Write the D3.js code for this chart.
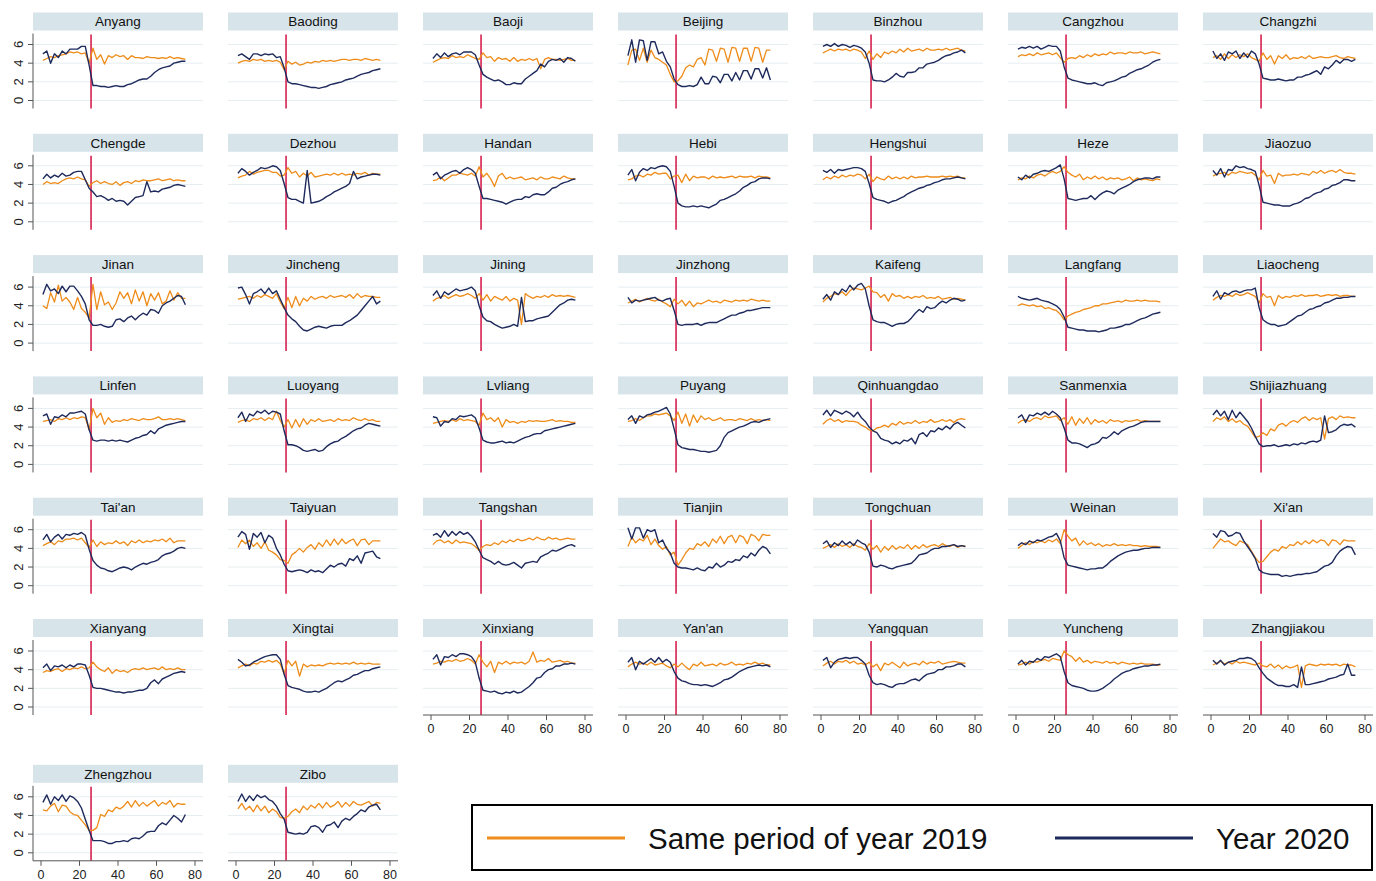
<!DOCTYPE html>
<html><head><meta charset="utf-8">
<script src="https://cdn.jsdelivr.net/npm/d3@7"></script>
<style>
html,body{margin:0;padding:0;background:#fff;}
svg{display:block;font-family:"Liberation Sans",Arial,Helvetica,sans-serif;}
</style></head><body>
<svg id="chart" width="1376" height="881"></svg>
<script>
// City panels in reading order
const cities = ["Anyang","Baoding","Baoji","Beijing","Binzhou","Cangzhou","Changzhi",
  "Chengde","Dezhou","Handan","Hebi","Hengshui","Heze","Jiaozuo",
  "Jinan","Jincheng","Jining","Jinzhong","Kaifeng","Langfang","Liaocheng",
  "Linfen","Luoyang","Lvliang","Puyang","Qinhuangdao","Sanmenxia","Shijiazhuang",
  "Tai'an","Taiyuan","Tangshan","Tianjin","Tongchuan","Weinan","Xi'an",
  "Xianyang","Xingtai","Xinxiang","Yan'an","Yangquan","Yuncheng","Zhangjiakou",
  "Zhengzhou","Zibo"];

// Sampled days of the period
const days = [1,3,5,7,9,11,13,15,17,19,21,23,25,27,29,31,33,35,37,
  39,41,43,45,47,49,51,53,55,57,59,61,63,65,67,69,71,73,75];

const eventDay = 26;
const yTicks = [0,2,4,6];
const xTicks = [0,20,40,60,80];
const legendLabels = ["Same period of year 2019","Year 2020"];

// Same period of year 2019, one row per city
const period2019 = [
  [4.3,4.5,4.7,4.6,4.8,4.9,5.0,5.2,5.1,5.2,5.0,5.1,4.0,5.6,4.4,4.9,3.9,4.8,4.6, 4.9,4.7,4.8,4.4,4.8,4.6,4.6,4.5,4.7,4.6,4.6,4.5,4.6,4.5,4.7,4.5,4.6,4.5,4.4],
  [4.0,4.2,4.3,4.2,4.4,4.3,4.4,4.2,4.3,4.2,4.3,4.1,3.3,4.2,3.9,4.1,3.8,3.9,4.1, 4.0,4.2,4.1,4.3,4.2,4.3,4.2,4.3,4.4,4.4,4.3,4.4,4.4,4.3,4.5,4.4,4.3,4.4,4.3],
  [4.1,4.3,4.5,4.6,4.5,4.8,4.6,4.7,4.6,4.9,4.7,4.5,4.4,5.1,4.6,4.7,4.2,4.6,4.4, 4.5,4.2,4.6,4.2,4.4,4.3,4.5,4.3,4.5,3.4,4.4,4.6,4.4,4.4,4.3,4.4,4.5,4.3,4.3],
  [3.8,5.4,5.5,4.3,5.6,4.1,5.4,4.6,4.4,4.1,3.8,2.8,2.0,2.1,2.6,3.5,3.8,3.6,4.4, 4.6,3.8,5.5,5.4,4.2,5.6,5.5,4.1,5.7,5.6,4.2,5.6,5.6,4.2,5.7,5.6,4.1,5.4,5.4],
  [5.1,5.3,5.5,5.3,5.5,5.4,5.5,5.3,5.5,5.4,5.2,4.5,5.3,4.4,5.0,4.6,5.2,5.0,5.3, 5.1,5.5,5.2,5.6,5.3,5.4,5.5,5.3,5.6,5.4,5.4,5.5,5.4,5.6,5.4,5.5,5.6,5.4,5.3],
  [4.7,4.9,4.8,5.0,4.8,5.1,4.9,5.0,5.1,4.9,5.1,4.6,4.1,4.5,4.6,4.5,4.8,4.6,4.9, 4.7,5.0,4.8,5.0,4.9,5.2,5.0,5.1,5.1,5.0,5.2,5.1,5.1,5.2,5.0,5.1,5.2,5.1,5.0],
  [4.6,4.8,4.4,5.0,4.5,4.9,4.6,4.9,4.7,5.0,4.6,4.4,4.2,5.1,4.4,4.8,3.9,4.8,4.5, 4.9,4.4,4.6,4.5,4.7,4.5,4.8,4.5,4.6,4.7,4.6,4.6,4.7,4.8,4.6,4.5,4.7,4.6,4.5],
  [4.0,4.3,4.1,4.2,4.1,4.4,4.6,4.7,4.6,4.8,4.6,4.5,3.8,4.2,4.4,4.1,4.3,4.1,4.0, 4.3,3.9,4.2,4.3,4.1,4.4,4.3,4.5,4.4,4.4,4.5,4.6,4.4,4.5,4.6,4.4,4.5,4.4,4.4],
  [4.7,4.9,5.0,5.4,5.1,5.3,5.4,5.5,5.5,5.3,5.3,4.9,5.0,5.8,5.2,5.4,4.8,5.2,4.9, 5.3,4.8,4.9,5.0,5.1,5.0,5.2,5.0,5.2,5.0,5.1,5.0,5.2,5.1,5.3,5.0,5.2,5.1,5.1],
  [4.4,4.5,4.8,4.4,4.7,5.0,5.0,5.2,5.1,5.0,5.2,4.9,5.9,4.8,5.2,4.6,3.8,4.9,5.2, 4.6,4.8,4.6,4.7,4.8,4.5,4.6,4.7,4.5,4.8,4.6,4.6,4.8,4.7,4.6,4.9,4.7,4.6,4.6],
  [4.5,4.6,4.9,5.0,4.8,5.1,5.0,5.3,5.1,5.2,5.2,4.6,4.9,5.0,4.2,5.1,4.4,4.9,4.7, 4.8,4.8,4.6,4.9,4.7,4.8,4.7,4.8,4.9,4.7,4.9,4.8,4.8,4.9,4.7,4.9,4.8,4.8,4.7],
  [4.5,4.8,4.6,4.9,4.7,5.0,4.8,5.0,4.9,5.1,5.0,4.6,5.1,4.3,4.8,4.6,4.5,4.9,4.6, 4.8,4.6,4.8,4.6,4.9,4.7,4.8,4.8,4.9,4.8,4.8,4.8,4.9,4.8,4.9,4.8,4.9,4.7,4.7],
  [4.5,4.7,4.6,4.9,4.7,5.0,5.1,4.9,5.2,5.4,5.2,5.4,5.9,5.3,5.0,4.8,5.1,4.5,4.8, 4.6,4.9,4.6,4.8,4.5,4.7,4.6,4.7,4.5,4.6,4.8,4.4,4.7,4.5,4.6,4.5,4.4,4.6,4.5],
  [4.9,5.1,5.2,5.3,5.0,5.3,5.2,5.4,5.3,5.2,5.3,5.0,4.5,5.5,4.9,5.0,4.1,5.2,4.9, 5.0,5.0,5.1,5.0,5.2,5.1,5.0,5.4,5.2,5.5,5.2,5.4,5.5,5.3,5.6,5.3,5.2,5.2,5.1],
  [4.0,3.7,5.4,4.4,6.2,4.5,4.9,4.4,3.6,4.9,3.7,3.3,2.7,6.3,3.6,5.5,4.1,4.4,3.6, 4.3,5.5,4.8,5.4,4.2,5.7,4.5,5.5,4.0,5.3,4.6,5.4,4.2,4.5,5.6,4.6,5.4,4.8,4.8],
  [4.7,4.8,4.9,5.0,4.8,5.1,4.9,5.2,5.0,4.8,5.3,4.4,3.7,4.9,3.8,5.0,4.0,4.8,4.5, 5.0,4.7,4.9,5.0,4.8,5.1,4.9,5.0,5.1,4.9,5.2,4.8,5.3,4.9,5.1,5.0,5.0,4.9,4.9],
  [4.5,4.8,4.9,5.1,4.8,5.0,5.2,5.0,5.1,5.3,5.1,4.8,5.3,4.6,5.2,4.5,5.0,4.8,4.6, 5.0,4.5,4.8,4.6,2.0,5.3,5.0,4.8,5.0,4.9,5.1,4.9,5.2,5.0,5.1,5.0,5.1,5.0,4.9],
  [4.3,4.5,4.7,4.4,4.6,4.8,4.6,4.5,4.7,4.4,4.2,3.9,4.7,4.2,4.6,4.0,4.5,3.9,4.3, 4.2,4.4,4.6,4.4,4.5,4.3,4.6,4.5,4.4,4.6,4.5,4.6,4.5,4.7,4.6,4.5,4.6,4.5,4.5],
  [4.4,4.8,5.0,5.3,5.2,5.5,5.1,5.6,5.9,5.8,5.7,5.9,6.1,5.5,5.4,4.9,5.2,4.5,5.3, 5.0,5.1,4.8,5.0,4.8,5.0,4.9,5.1,4.8,4.9,4.8,5.0,4.7,4.8,4.9,4.7,4.8,4.7,4.6],
  [4.0,4.2,4.1,4.0,4.1,3.9,4.0,3.7,3.8,3.6,3.5,3.1,2.5,2.9,3.1,3.3,3.4,3.6,3.7, 3.8,4.0,4.0,4.2,4.2,4.3,4.4,4.5,4.4,4.6,4.5,4.5,4.6,4.5,4.6,4.5,4.5,4.5,4.4],
  [4.6,4.9,5.1,5.0,5.2,5.0,5.3,5.1,5.2,5.4,5.2,5.0,4.3,5.3,4.9,5.0,4.0,5.1,4.8, 5.0,4.9,5.1,5.0,5.2,5.0,5.1,5.1,5.2,5.0,5.1,5.2,5.1,5.2,5.0,5.1,5.1,5.0,5.0],
  [4.6,4.7,4.8,4.6,4.9,4.8,5.0,4.8,5.0,4.9,5.1,5.0,3.7,6.0,5.0,5.5,4.3,5.0,4.5, 4.7,4.6,4.8,4.7,4.9,4.8,4.7,4.9,4.8,4.8,4.9,5.1,4.8,4.8,4.9,4.8,4.9,4.8,4.7],
  [4.5,4.7,4.8,4.6,4.9,4.8,5.0,4.7,5.0,4.8,5.7,4.7,4.0,4.8,3.9,4.8,4.0,4.9,4.3, 4.8,4.6,4.9,4.6,4.7,4.8,4.6,4.9,4.7,4.8,4.7,5.0,4.8,4.7,4.9,4.7,4.8,4.6,4.6],
  [4.4,4.5,4.6,4.7,4.6,4.8,4.6,4.9,4.7,4.8,4.7,4.6,4.2,5.5,4.8,5.0,4.6,5.0,4.0, 4.8,4.5,4.6,4.4,4.6,4.5,4.7,4.6,4.7,4.6,4.6,4.7,4.8,4.6,4.7,4.6,4.6,4.5,4.5],
  [4.6,4.7,4.9,4.7,5.0,5.2,5.2,5.4,5.3,5.4,5.5,5.2,4.7,5.6,4.4,5.4,4.1,5.3,4.5, 5.2,4.8,5.0,4.7,4.8,5.0,4.7,4.8,4.8,4.7,4.9,4.8,4.7,4.9,4.7,4.8,4.7,4.8,4.7],
  [4.3,4.7,4.9,4.6,4.8,4.5,4.7,4.6,4.6,4.5,4.2,4.0,3.7,3.6,3.9,4.0,4.2,4.0,4.4, 4.2,4.6,4.3,4.5,4.4,4.7,4.4,4.6,4.5,4.8,4.5,4.6,4.8,4.6,4.8,4.5,4.8,4.9,4.8],
  [4.4,4.7,4.8,4.6,4.9,5.0,4.8,5.2,5.0,5.1,5.2,4.7,5.0,4.3,5.1,4.2,4.9,4.4,5.0, 4.3,4.8,4.5,4.7,4.4,4.8,4.6,4.7,4.5,4.7,4.6,4.7,4.8,4.6,4.7,4.6,4.6,4.6,4.6],
  [4.6,5.0,4.8,5.1,4.6,4.9,4.5,4.7,4.3,4.1,3.5,2.9,3.0,3.4,3.1,3.8,3.6,4.2,4.4, 4.1,4.5,4.7,4.5,4.9,5.1,4.7,5.0,4.8,5.0,2.7,4.9,5.1,4.8,5.2,5.0,5.1,5.0,5.0],
  [4.3,4.5,4.7,4.4,4.8,4.7,5.0,5.0,5.1,4.9,5.1,4.6,4.1,4.9,4.2,4.7,4.4,4.6,4.5, 4.8,4.5,4.7,4.3,4.8,4.6,4.9,4.6,4.8,4.7,4.9,4.8,5.0,4.7,5.1,4.6,4.8,4.8,4.8],
  [4.1,4.9,4.5,4.9,4.2,4.6,4.0,4.7,3.8,3.6,3.3,2.8,2.7,2.4,3.3,3.6,4.0,3.6,4.1, 4.4,3.9,4.6,4.2,4.9,4.3,5.0,4.4,5.0,4.5,4.8,5.0,4.3,4.9,5.0,4.4,4.8,4.8,4.8],
  [4.4,4.8,4.9,4.6,4.8,4.5,4.9,4.6,4.7,4.6,4.5,4.2,3.8,4.2,4.4,4.3,4.6,4.4,4.8, 4.6,4.9,4.7,5.0,4.8,4.9,5.1,4.9,5.2,5.0,4.9,5.2,5.0,5.1,4.9,5.0,5.1,5.0,5.0],
  [4.2,5.2,4.6,5.0,4.8,5.4,4.4,5.0,4.3,3.9,4.2,3.3,3.6,2.2,2.8,3.5,4.0,3.9,4.5, 4.3,4.7,4.2,5.0,4.6,5.3,4.5,5.2,5.4,4.6,5.4,5.2,4.5,5.5,5.3,4.8,5.5,5.4,5.4],
  [4.0,4.2,4.4,4.1,4.5,4.2,4.4,4.1,4.5,4.2,4.1,3.8,4.5,3.9,4.3,3.6,4.2,3.8,4.3, 3.9,4.2,4.0,4.4,3.9,4.3,4.0,4.4,4.1,4.3,4.4,4.2,4.5,4.3,4.2,4.4,4.1,4.3,4.2],
  [4.0,4.3,4.6,4.4,4.7,4.6,4.8,4.6,4.9,4.7,5.0,4.5,6.0,5.3,4.8,5.1,4.3,4.8,4.4, 4.6,4.3,4.5,4.2,4.4,4.3,4.5,4.3,4.4,4.3,4.4,4.3,4.3,4.2,4.3,4.2,4.2,4.2,4.1],
  [4.0,4.5,5.0,4.7,4.8,4.5,4.3,4.8,4.6,4.4,3.7,3.0,2.5,2.6,3.1,3.6,3.9,3.7,4.2, 4.0,4.4,4.3,4.7,4.4,4.8,4.5,4.9,4.6,4.9,4.8,4.3,4.9,4.8,4.4,4.9,4.8,4.8,4.8],
  [3.7,3.9,3.8,4.0,4.1,3.8,4.1,4.0,4.2,4.1,4.3,4.1,4.2,4.8,4.3,4.0,3.8,4.2,3.6, 4.0,3.8,3.9,3.7,4.0,4.1,4.0,4.2,4.0,4.1,4.2,4.0,4.3,4.0,4.1,4.0,4.2,4.0,4.0],
  [4.2,4.4,4.6,4.4,4.7,4.6,4.9,4.8,5.0,4.8,5.0,4.6,3.6,5.0,4.4,4.9,3.3,4.6,4.3, 4.5,4.4,4.5,4.4,4.6,4.7,4.6,4.7,4.6,4.7,4.6,4.8,4.6,4.7,4.6,4.7,4.6,4.6,4.6],
  [4.6,4.7,4.9,4.8,5.0,4.9,5.1,4.9,5.0,5.2,5.0,4.6,5.6,4.8,4.3,4.9,3.7,4.8,4.6, 4.9,4.6,4.8,4.7,4.8,4.6,4.9,5.9,4.8,5.0,4.9,5.2,4.8,4.9,5.0,4.8,4.9,4.7,4.7],
  [4.3,4.6,4.8,4.6,4.7,4.5,4.8,4.5,4.6,4.7,4.4,4.2,4.6,4.3,4.7,4.3,4.0,4.6,4.4, 4.8,4.4,4.5,4.6,4.4,4.7,4.5,4.6,4.8,4.5,4.6,4.5,4.7,4.6,4.8,4.6,4.7,4.5,4.5],
  [4.4,4.7,4.9,4.6,4.9,4.8,5.0,4.7,4.9,4.6,4.7,4.5,4.8,4.3,4.6,3.9,4.7,4.5,4.8, 4.5,4.2,4.8,4.4,4.6,4.7,4.5,4.9,4.6,4.8,4.7,4.9,4.6,4.7,4.8,4.9,4.8,4.7,4.7],
  [4.5,4.6,4.8,4.6,4.9,4.8,5.0,5.1,4.9,5.2,5.1,5.0,6.0,5.6,5.4,4.9,5.3,4.8,5.0, 4.7,4.9,4.8,4.7,4.9,4.7,4.8,4.6,4.8,4.7,4.6,4.7,4.6,4.7,4.6,4.6,4.6,4.5,4.5],
  [4.5,4.7,4.9,4.6,4.8,4.6,4.9,4.7,4.8,4.7,4.6,4.5,4.7,4.4,4.3,4.6,4.2,4.5,4.1, 4.4,4.2,4.3,4.5,2.1,4.4,4.6,4.5,4.4,4.6,4.5,4.6,4.5,4.6,4.4,4.6,4.5,4.5,4.3],
  [4.6,4.5,5.0,5.3,4.4,5.1,5.0,4.4,4.1,4.0,3.5,3.0,2.4,2.4,2.7,4.1,3.9,4.6,4.4, 4.9,4.7,5.0,5.5,4.9,5.6,5.0,5.4,5.0,5.3,5.6,5.0,5.4,5.2,5.6,4.9,5.3,5.2,5.2],
  [4.7,5.3,4.6,5.0,4.4,5.1,4.5,5.0,4.3,4.7,4.4,3.8,3.7,3.9,4.4,4.7,4.3,5.0,4.6, 5.1,4.8,5.3,4.8,5.4,4.9,5.1,5.5,4.9,5.4,5.0,5.5,5.2,5.1,5.3,5.5,5.0,5.4,5.3]
];

// Year 2020, one row per city
const year2020 = [
  [5.0,5.3,4.0,5.0,4.6,5.3,5.0,5.5,5.5,5.5,5.8,5.8,3.8,1.6,1.6,1.5,1.5,1.4,1.5, 1.6,1.5,1.5,1.7,1.8,2.0,2.2,2.3,2.3,2.6,3.0,3.3,3.5,3.6,3.7,4.0,4.1,4.2,4.2],
  [4.8,5.0,4.7,4.4,5.0,5.0,4.8,5.0,4.9,5.0,4.6,4.7,3.5,2.0,1.8,1.8,1.7,1.6,1.5, 1.4,1.4,1.3,1.4,1.5,1.7,1.8,1.9,2.0,2.2,2.3,2.4,2.6,2.8,2.9,3.0,3.2,3.3,3.4],
  [4.5,5.0,4.6,5.1,4.7,5.0,5.1,4.9,5.2,5.2,5.2,4.9,3.8,2.8,2.5,2.3,2.1,2.2,2.0, 1.7,1.7,1.9,1.8,1.8,2.3,2.6,2.9,3.2,3.9,3.6,4.2,4.4,4.3,4.5,4.1,4.6,4.5,4.2],
  [4.8,6.5,4.1,6.5,6.4,4.3,6.3,6.3,5.0,5.2,4.2,3.6,2.3,1.7,1.5,1.5,1.6,1.5,1.7, 2.5,1.8,1.8,2.6,2.5,1.9,2.8,2.8,2.1,3.0,2.2,3.2,3.2,2.3,3.4,3.4,2.4,3.5,2.2],
  [5.8,6.0,5.8,6.1,5.8,6.0,5.9,5.7,5.9,5.8,5.6,5.2,4.0,2.2,2.1,2.1,2.0,2.2,2.5, 2.9,2.6,2.5,3.0,3.0,3.1,3.5,3.5,3.9,4.0,4.1,4.3,4.6,4.8,4.9,5.1,5.2,5.4,5.1],
  [5.5,5.7,5.6,5.8,5.6,5.8,5.5,5.7,5.9,5.8,5.8,5.3,3.6,2.4,2.2,2.1,2.0,1.9,1.8, 1.8,1.9,1.7,1.6,1.9,2.0,2.1,2.3,2.5,2.6,2.9,3.1,3.3,3.4,3.6,3.8,4.1,4.3,4.4],
  [5.3,4.5,5.0,4.3,5.2,5.0,5.3,4.5,5.1,4.6,5.3,5.0,3.9,2.4,2.3,2.2,2.2,2.3,2.2, 2.1,2.2,2.2,2.5,2.5,2.7,2.8,3.0,3.2,2.8,3.6,3.4,3.8,4.3,4.0,4.4,4.4,4.2,4.4],
  [4.6,5.1,4.7,5.0,4.8,5.2,4.9,5.0,5.3,5.4,5.4,4.5,3.6,3.2,2.7,2.8,2.6,2.3,2.5, 2.2,2.3,2.2,1.8,2.2,2.6,2.7,2.8,4.3,3.2,3.3,3.2,3.5,3.6,3.7,3.9,4.0,3.9,3.8],
  [5.2,5.7,5.4,5.0,5.3,5.5,5.8,5.7,5.8,6.0,5.9,5.5,4.1,2.6,2.4,2.4,2.2,2.0,5.5, 2.0,2.1,2.2,2.4,2.7,2.9,3.2,3.4,3.6,3.8,4.1,5.4,4.6,4.8,4.9,5.0,5.1,5.1,5.0],
  [5.0,5.3,4.6,5.0,5.2,5.4,5.5,5.2,5.6,5.8,5.6,5.2,3.8,2.5,2.5,2.4,2.3,2.2,2.1, 1.9,2.1,2.3,2.4,2.4,2.7,2.6,2.9,3.0,2.9,2.9,3.2,3.6,3.7,4.0,4.2,4.3,4.5,4.6],
  [5.0,5.6,4.4,5.3,5.7,5.5,5.8,5.7,5.9,6.0,5.9,5.4,3.8,2.0,1.7,1.6,1.6,1.7,1.6, 1.7,1.6,1.5,1.7,1.9,2.3,2.4,2.6,2.8,3.0,3.3,3.7,3.9,4.2,4.3,4.6,4.7,4.7,4.6],
  [5.5,5.3,5.6,5.2,5.6,5.5,5.6,5.7,5.8,5.8,5.7,5.4,4.1,2.6,2.4,2.3,2.2,2.0,2.2, 2.3,2.5,2.7,3.0,3.2,3.4,3.6,3.7,3.9,4.0,4.2,4.3,4.5,4.6,4.6,4.7,4.8,4.7,4.6],
  [4.8,4.5,5.0,4.7,5.1,5.2,5.4,5.5,5.4,5.6,5.8,6.1,4.6,2.5,2.4,2.3,2.4,2.5,2.5, 2.8,2.4,2.8,3.1,3.3,3.2,3.0,3.4,3.6,3.8,4.0,4.3,4.5,4.6,4.7,4.7,4.6,4.8,4.8],
  [5.5,5.0,5.7,4.8,5.6,5.5,6.0,5.8,5.9,5.7,5.6,5.4,3.9,2.1,2.0,1.9,1.8,1.8,1.7, 1.7,1.7,1.9,2.0,2.2,2.5,2.6,2.9,3.1,3.2,3.5,3.6,3.9,4.0,4.2,4.5,4.5,4.4,4.4],
  [5.2,6.3,5.6,5.8,5.3,6.1,5.5,6.1,6.1,5.6,5.0,4.2,2.5,1.9,1.9,2.0,1.8,1.7,1.8, 2.5,2.6,2.3,2.7,2.9,2.5,2.9,3.2,3.0,3.6,3.5,3.2,4.0,4.3,4.5,4.8,5.1,5.0,4.1],
  [5.9,6.0,5.2,4.2,5.3,5.5,5.8,5.3,5.9,5.3,5.6,4.7,3.8,3.0,2.6,2.3,1.8,1.4,1.3, 1.5,1.7,1.8,1.7,1.6,1.8,1.9,1.9,1.9,2.2,2.4,2.7,3.0,3.5,4.0,4.5,5.0,4.2,4.5],
  [5.1,5.6,4.8,5.5,5.2,5.5,5.8,5.6,5.7,5.8,6.0,5.6,4.0,2.8,2.4,2.3,2.0,1.8,1.6, 1.7,1.8,2.0,1.8,4.9,2.3,2.4,2.4,2.6,2.7,2.8,2.9,3.3,3.7,4.1,4.3,4.6,4.7,4.6],
  [4.9,4.3,4.6,4.5,4.6,4.7,4.8,4.9,4.6,4.5,4.7,4.8,3.5,2.0,1.9,2.0,2.0,2.0,2.1, 1.9,2.1,2.2,2.2,2.2,2.4,2.6,2.8,3.0,3.0,3.2,3.3,3.5,3.5,3.6,3.7,3.8,3.8,3.8],
  [4.7,5.2,4.6,5.5,5.2,5.8,5.5,6.2,5.7,6.2,6.4,5.8,4.0,2.5,2.3,2.2,2.2,2.0,1.8, 2.0,2.1,2.1,2.3,2.7,3.2,3.6,3.3,3.9,3.7,3.8,4.2,4.5,4.3,4.6,4.8,4.7,4.5,4.6],
  [5.0,4.8,4.7,4.6,4.7,4.8,4.6,4.5,4.4,4.2,4.0,3.6,2.8,1.7,1.6,1.5,1.4,1.4,1.3, 1.3,1.3,1.2,1.3,1.4,1.6,1.6,1.7,1.8,2.0,2.0,2.2,2.4,2.6,2.7,2.9,3.1,3.2,3.3],
  [5.0,5.6,4.7,5.4,5.2,5.5,5.6,5.4,5.6,5.7,5.7,5.9,3.8,2.5,2.2,2.0,2.0,1.8,1.9, 2.0,2.3,2.6,2.9,3.0,3.3,3.6,3.7,3.9,4.0,4.3,4.4,4.6,4.8,4.8,4.9,4.9,5.0,5.0],
  [5.2,5.4,4.3,5.1,5.0,5.3,5.1,5.5,5.5,5.6,5.7,5.4,3.7,2.6,2.5,2.6,2.6,2.5,2.6, 2.5,2.6,2.5,2.4,2.6,2.8,2.9,3.1,3.2,3.6,3.3,3.8,4.0,4.2,4.3,4.4,4.5,4.6,4.6],
  [5.0,5.6,4.6,5.4,5.2,5.7,5.5,5.8,5.4,5.7,5.6,5.4,3.6,2.1,2.1,2.0,1.8,1.5,1.4, 1.5,1.6,1.4,1.5,1.9,2.2,2.4,2.5,2.8,3.0,3.3,3.6,3.8,3.9,4.2,4.4,4.3,4.2,4.1],
  [5.1,5.0,4.1,4.6,4.5,4.9,4.8,5.2,5.1,5.2,5.3,5.0,3.9,2.6,2.4,2.3,2.3,2.4,2.5, 2.3,2.4,2.3,2.5,2.7,2.9,3.0,3.2,3.3,3.3,3.6,3.7,3.8,3.9,4.0,4.1,4.2,4.3,4.4],
  [4.8,5.2,4.4,5.2,5.0,5.3,5.4,5.6,5.7,5.9,6.1,5.4,3.8,2.1,1.8,1.7,1.6,1.6,1.5, 1.4,1.4,1.3,1.4,1.5,2.0,2.9,3.4,3.6,3.8,4.0,4.1,4.3,4.5,4.6,4.5,4.7,4.8,4.9],
  [5.3,5.8,5.2,5.8,5.6,5.4,5.7,5.5,5.1,5.6,5.0,4.6,4.0,3.6,3.4,2.8,2.6,2.5,2.2, 2.4,2.2,2.6,2.5,2.8,2.2,3.2,3.4,3.0,3.6,3.5,3.9,3.7,4.1,3.8,4.3,4.5,4.2,3.9],
  [5.0,5.3,4.5,5.3,5.2,5.5,5.3,5.6,5.3,5.7,5.4,5.0,3.9,2.6,2.3,2.3,2.2,2.0,1.8, 2.1,2.2,2.4,2.9,2.8,3.1,3.5,3.2,3.6,3.8,4.0,4.1,4.3,4.5,4.6,4.6,4.6,4.6,4.6],
  [5.3,5.8,5.2,5.7,4.8,5.8,5.0,5.6,5.1,4.6,3.9,3.0,2.2,1.9,2.0,2.0,2.1,1.9,2.0, 2.1,2.0,2.2,2.1,2.3,2.2,2.4,2.5,2.4,2.6,5.2,3.4,3.5,3.7,4.1,4.3,4.2,4.3,4.0],
  [4.9,5.5,4.7,5.2,5.5,5.0,5.5,5.4,5.6,5.5,5.7,5.4,3.9,2.7,2.2,1.9,1.8,1.6,1.5, 1.7,1.9,2.0,1.9,1.7,2.0,2.2,2.4,2.3,2.5,2.6,2.8,3.2,3.4,3.5,3.7,4.0,4.1,4.0],
  [5.2,5.8,5.5,3.9,5.6,5.2,5.7,4.6,5.4,5.1,4.0,3.3,2.3,1.6,1.5,1.6,1.7,1.6,1.4, 1.7,1.5,1.6,1.4,1.8,2.2,2.0,2.3,2.4,2.1,2.9,2.7,3.2,2.4,3.5,3.6,3.7,3.1,2.9],
  [5.4,5.6,5.2,5.9,5.3,5.8,5.4,5.8,5.5,5.7,5.3,4.7,3.8,3.0,2.8,2.6,2.3,2.6,2.3, 2.2,2.3,2.5,2.2,1.9,2.4,2.5,2.6,2.5,3.1,3.3,3.5,3.8,3.7,3.9,4.1,4.3,4.4,4.2],
  [6.2,5.0,6.2,6.2,5.1,6.0,5.8,6.0,4.6,4.9,4.0,3.5,2.4,2.0,1.9,1.9,1.8,1.7,1.9, 1.7,1.6,2.0,1.9,2.4,2.0,2.2,2.6,2.5,2.8,2.7,3.2,3.0,3.5,3.2,3.8,4.2,4.0,3.4],
  [4.5,4.8,4.1,4.6,4.3,4.8,4.4,4.7,4.3,4.9,4.6,4.4,3.6,2.1,2.0,2.2,2.1,1.9,1.8, 2.0,2.1,2.2,2.3,2.4,2.8,3.3,3.4,3.5,3.8,4.0,4.0,4.2,4.2,4.3,4.4,4.2,4.3,4.2],
  [4.3,4.6,4.4,4.8,4.6,4.9,4.8,5.0,5.2,5.3,5.6,4.8,3.0,2.2,2.1,2.0,1.9,1.8,1.7, 1.8,1.8,1.9,1.9,2.2,2.6,2.9,3.2,3.4,3.6,3.7,3.8,3.8,3.9,4.0,4.0,4.1,4.1,4.1],
  [5.6,5.2,5.9,5.8,5.3,5.4,5.7,5.6,4.8,4.2,3.6,2.9,1.7,1.4,1.3,1.2,1.2,1.2,1.0, 1.1,1.0,1.1,1.2,1.2,1.3,1.3,1.4,1.5,1.8,2.1,2.2,2.5,3.2,3.7,4.0,4.2,4.1,3.3],
  [4.2,4.6,3.9,4.4,4.3,4.5,4.2,4.5,4.3,4.6,4.6,4.5,3.4,2.1,2.0,2.0,1.9,1.8,1.7, 1.6,1.6,1.5,1.6,1.6,1.7,1.8,1.8,2.0,2.6,2.9,2.5,3.0,3.2,3.4,3.6,3.7,3.8,3.7],
  [5.1,4.8,4.4,4.5,4.8,5.0,5.2,5.4,5.5,5.6,5.6,5.1,3.5,2.3,2.1,2.0,1.9,1.7,1.6, 1.6,1.7,1.6,1.8,2.0,2.3,2.6,2.8,2.7,2.9,3.1,3.4,3.5,3.7,3.9,3.9,4.1,4.2,4.3],
  [5.1,5.6,4.5,5.4,5.3,5.6,5.4,5.7,5.7,5.6,5.4,4.8,3.1,1.8,1.7,1.6,1.7,1.5,1.4, 1.6,1.5,1.7,1.5,1.6,1.9,2.2,2.6,3.1,3.2,3.7,4.0,4.1,4.4,4.4,4.6,4.6,4.7,4.6],
  [4.8,5.3,4.0,4.9,4.6,4.9,5.2,4.8,5.3,4.8,5.1,4.8,3.8,3.1,2.8,2.7,2.5,2.4,2.4, 2.3,2.4,2.3,2.2,2.4,2.6,2.9,3.0,3.2,3.5,3.8,4.0,4.2,4.3,4.4,4.5,4.4,4.5,4.3],
  [5.0,5.3,4.2,4.8,5.1,5.2,5.3,5.2,5.3,5.3,5.0,4.6,3.4,2.6,2.4,2.5,2.4,2.2,2.1, 2.4,2.5,2.5,2.7,2.9,3.0,2.8,3.2,3.5,3.6,3.7,4.0,4.0,4.3,4.3,4.4,4.6,4.6,4.3],
  [4.6,5.0,4.5,4.9,4.8,5.2,5.0,5.4,5.3,5.5,5.7,5.4,3.8,2.6,2.3,2.2,2.1,2.0,1.8, 1.7,1.7,1.8,2.0,2.3,2.6,3.0,3.3,3.6,3.8,3.9,4.1,4.2,4.3,4.4,4.4,4.5,4.5,4.6],
  [5.0,4.6,5.0,4.5,4.8,4.9,5.0,5.2,5.2,5.3,5.2,4.9,4.2,3.6,3.1,2.8,2.5,2.3,2.3, 2.2,2.2,2.4,2.1,4.3,2.4,2.4,2.5,2.6,2.7,2.8,3.0,3.1,3.2,3.4,3.5,4.6,3.4,3.4],
  [5.4,6.2,5.2,6.0,5.6,6.2,5.5,6.1,5.9,5.5,4.8,3.6,2.4,1.3,1.3,1.3,1.2,1.0,1.0, 1.2,1.2,1.3,1.2,1.5,1.6,1.5,1.8,2.2,2.3,2.3,2.9,3.2,3.0,3.5,4.0,3.7,3.3,4.1],
  [5.5,6.3,5.5,6.1,5.6,6.2,5.9,6.1,5.7,5.5,5.0,4.2,3.6,2.2,2.1,2.0,2.1,2.0,2.2, 2.8,2.9,2.7,2.2,2.9,3.0,3.3,2.7,3.4,3.7,3.5,3.9,4.2,4.6,4.4,4.9,5.1,5.2,4.6]
];

// ---- drawing ----
const colors = { y2019: "#ee8c1a", y2020: "#1e2a5c", event: "#d6214f",
  strip: "#d7e4ea", grid: "#e6eef1", axis: "#555", text: "#222" };

const nCols = 7, colStep = 195, panelW = 170, left0 = 33;
const rowStep = 121.3, top0 = 12.5, stripH = 18;
const lastRowShift = 24.5;
const nRows = Math.ceil(cities.length / nCols);

function panelLeft(c) { return left0 + c * colStep; }
function panelTop(r) { return top0 + r * rowStep + (r === nRows - 1 ? lastRowShift : 0); }

// scales in panel-local coordinates
const x = d3.scaleLinear().domain([0, 80]).range([8, 162]);
const y = d3.scaleLinear().domain([0, 6]).range([88, 32]);
const plotTop = 21, plotBottom = 96;

const svg = d3.select("#chart");

const line = d3.line().x((d, i) => x(days[i])).y(d => y(d));

cities.forEach((city, i) => {
  const c = i % nCols, r = Math.floor(i / nCols);
  const g = svg.append("g").attr("transform", `translate(${panelLeft(c)},${panelTop(r)})`);

  // title strip
  g.append("rect").attr("x", 0).attr("y", 0).attr("width", panelW).attr("height", stripH)
    .attr("fill", colors.strip);
  g.append("text").attr("x", panelW / 2).attr("y", stripH / 2).attr("dy", "0.36em")
    .attr("text-anchor", "middle").attr("font-size", 13.5).attr("fill", "#111").text(city);

  // horizontal gridlines
  g.selectAll("line.grid").data(yTicks).enter().append("line")
    .attr("x1", 0).attr("x2", panelW).attr("y1", d => y(d)).attr("y2", d => y(d))
    .attr("stroke", colors.grid).attr("stroke-width", 1);

  // event marker
  g.append("line").attr("x1", x(eventDay)).attr("x2", x(eventDay))
    .attr("y1", plotTop + 1).attr("y2", plotBottom)
    .attr("stroke", colors.event).attr("stroke-width", 1.6);

  // series
  g.append("path").datum(period2019[i]).attr("d", line).attr("fill", "none")
    .attr("stroke", colors.y2019).attr("stroke-width", 1.3).attr("stroke-linejoin", "round");
  g.append("path").datum(year2020[i]).attr("d", line).attr("fill", "none")
    .attr("stroke", colors.y2020).attr("stroke-width", 1.4).attr("stroke-linejoin", "round");

  // y axis on first column
  if (c === 0) {
    g.append("line").attr("x1", 0).attr("x2", 0).attr("y1", plotTop).attr("y2", plotBottom)
      .attr("stroke", colors.axis).attr("stroke-width", 1);
    yTicks.forEach(t => {
      g.append("line").attr("x1", -5).attr("x2", 0).attr("y1", y(t)).attr("y2", y(t))
        .attr("stroke", colors.axis).attr("stroke-width", 1);
      g.append("text").attr("transform", `translate(-15,${y(t)}) rotate(-90)`)
        .attr("text-anchor", "middle").attr("dy", "0.36em").attr("font-size", 13)
        .attr("fill", colors.text).text(t);
    });
  }

  // x axis under the bottom panel of each column
  if (i + nCols >= cities.length) {
    g.append("line").attr("x1", 0).attr("x2", panelW).attr("y1", plotBottom).attr("y2", plotBottom)
      .attr("stroke", colors.axis).attr("stroke-width", 1);
    xTicks.forEach(t => {
      g.append("line").attr("x1", x(t)).attr("x2", x(t)).attr("y1", plotBottom).attr("y2", plotBottom + 5)
        .attr("stroke", colors.axis).attr("stroke-width", 1);
      g.append("text").attr("x", x(t)).attr("y", plotBottom + 13.5).attr("dy", "0.36em")
        .attr("text-anchor", "middle").attr("font-size", 12.5).attr("fill", colors.text).text(t);
    });
  }
});

// legend
const lg = svg.append("g");
lg.append("rect").attr("x", 472).attr("y", 805).attr("width", 900).attr("height", 65)
  .attr("fill", "none").attr("stroke", "#000").attr("stroke-width", 2);
const legendItems = [
  { label: legendLabels[0], color: colors.y2019, x0: 487 },
  { label: legendLabels[1], color: colors.y2020, x0: 1055 }
];
legendItems.forEach(it => {
  lg.append("line").attr("x1", it.x0).attr("x2", it.x0 + 138).attr("y1", 838).attr("y2", 838)
    .attr("stroke", it.color).attr("stroke-width", 3);
  lg.append("text").attr("x", it.x0 + 161).attr("y", 838).attr("dy", "0.36em")
    .attr("font-size", 29.5).attr("fill", "#111").text(it.label);
});
</script>
</body></html>
